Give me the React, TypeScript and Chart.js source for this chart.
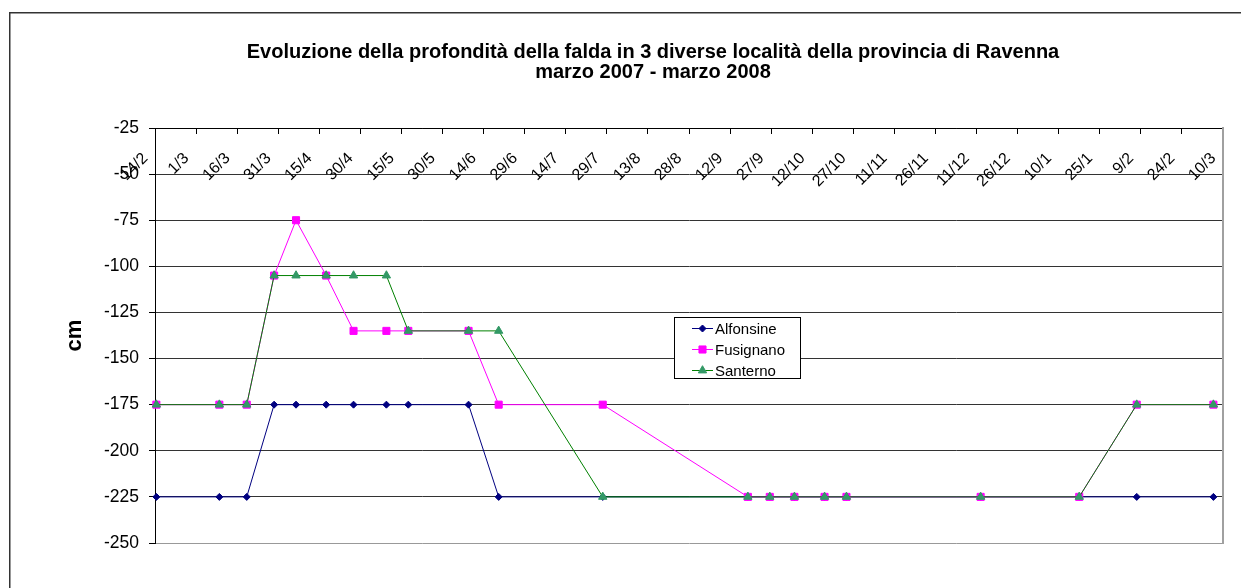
import React, { useEffect, useRef } from 'react';
import { Chart, registerables } from 'chart.js';

Chart.register(...registerables);

const FONT = "Arial, 'Liberation Sans', sans-serif";

const titleLines = [
  'Evoluzione della profondità della falda in 3 diverse località della provincia di Ravenna',
  'marzo 2007 - marzo 2008',
];
const yAxisTitle = 'cm';

// date axis (Excel style: starts 14/2/2007, major unit 15 days)
const axisStart = '14/02/2007';
const xTickStepDays = 15;
const xTickLabels = [
  '14/2', '1/3', '16/3', '31/3', '15/4', '30/4', '15/5', '30/5', '14/6', '29/6',
  '14/7', '29/7', '13/8', '28/8', '12/9', '27/9', '12/10', '27/10', '11/11', '26/11',
  '11/12', '26/12', '10/1', '25/1', '9/2', '24/2', '10/3',
];

const yMin = -250;
const yMax = -25;
const yStep = 25;

const seriesNames = ['Alfonsine', 'Fusignano', 'Santerno'];

const sampleDates = [
  '14/02/2007', '09/03/2007', '19/03/2007', '29/03/2007', '06/04/2007', '17/04/2007',
  '27/04/2007', '09/05/2007', '17/05/2007', '08/06/2007', '19/06/2007', '27/07/2007',
  '18/09/2007', '26/09/2007', '05/10/2007', '16/10/2007', '24/10/2007', '12/12/2007',
  '17/01/2008', '07/02/2008', '06/03/2008',
];

const alfonsine = [
  -225, -225, -225, -175, -175, -175, -175, -175, -175, -175, -225, -225,
  -225, -225, -225, -225, -225, -225, -225, -225, -225,
];
const fusignano = [
  -175, -175, -175, -105, -75, -105, -135, -135, -135, -135, -175, -175,
  -225, -225, -225, -225, -225, -225, -225, -175, -175,
];
const santerno = [
  -175, -175, -175, -105, -105, -105, -105, -105, -135, -135, -135, -225,
  -225, -225, -225, -225, -225, -225, -225, -175, -175,
];

function parseDay(s: string): number {
  const [d, m, y] = s.split('/').map(Number);
  return Date.UTC(y, m - 1, d);
}
const DAY = 86400000;
const startMs = parseDay(axisStart);
// Excel places a date's point in the middle of its day
function toX(s: string): number {
  return (parseDay(s) - startMs) / DAY + 0.5;
}

function toPoints(vals: number[]) {
  return vals.map((v, i) => ({ x: toX(sampleDates[i]), y: v }));
}

const xMax = (xTickLabels.length - 1) * xTickStepDays;

const seriesStyles = [
  { line: '#000080', fill: '#000080', style: 'rectRot', radius: 3.5 },
  { line: '#FF00FF', fill: '#FF00FF', style: 'rect', radius: 5 },
  { line: '#008000', fill: '#339966', style: 'triangle', radius: 4.8 },
];

const framePlugin = {
  id: 'frame',
  beforeDraw(chart: any) {
    const ctx = chart.ctx;
    ctx.save();
    ctx.fillStyle = '#fff';
    ctx.fillRect(0, 0, chart.width, chart.height);
    ctx.strokeStyle = '#333';
    ctx.lineWidth = 1.5;
    ctx.strokeRect(9.75, 12.75, 1286, 640);
    ctx.restore();
  },
};

function drawMarker(ctx: CanvasRenderingContext2D, style: string, x: number, y: number, r: number) {
  ctx.beginPath();
  if (style === 'rectRot') {
    ctx.moveTo(x, y - r);
    ctx.lineTo(x + r, y);
    ctx.lineTo(x, y + r);
    ctx.lineTo(x - r, y);
  } else if (style === 'rect') {
    const h = r * Math.SQRT1_2;
    ctx.rect(x - h, y - h, 2 * h, 2 * h);
  } else {
    ctx.moveTo(x, y - r);
    ctx.lineTo(x + r * 0.866, y + r * 0.5);
    ctx.lineTo(x - r * 0.866, y + r * 0.5);
  }
  ctx.closePath();
  ctx.fill();
  ctx.stroke();
}

const boxLegendPlugin = {
  id: 'boxLegend',
  afterDraw(chart: any) {
    const ctx = chart.ctx;
    const x0 = 674.5, y0 = 317.5, w = 126, h = 61;
    ctx.save();
    ctx.fillStyle = '#fff';
    ctx.fillRect(x0, y0, w, h);
    ctx.strokeStyle = '#000';
    ctx.lineWidth = 1;
    ctx.strokeRect(x0, y0, w, h);
    ctx.font = `15px ${FONT}`;
    ctx.textBaseline = 'middle';
    ctx.textAlign = 'left';
    seriesNames.forEach((name, i) => {
      const st = seriesStyles[i];
      const cy = 328.5 + i * 21;
      ctx.strokeStyle = st.line;
      ctx.lineWidth = 1;
      ctx.beginPath();
      ctx.moveTo(692, cy);
      ctx.lineTo(713, cy);
      ctx.stroke();
      ctx.fillStyle = st.fill;
      ctx.strokeStyle = st.fill;
      drawMarker(ctx, st.style, 702.5, cy, st.radius);
      ctx.fillStyle = '#000';
      ctx.fillText(name, 715, cy + 1);
    });
    ctx.restore();
  },
};

const tickBuilder = (scale: any) => {
  scale.ticks = xTickLabels.map((_, i) => ({ value: i * xTickStepDays }));
};

export default function App() {
  const ref = useRef<HTMLCanvasElement | null>(null);

  useEffect(() => {
    if (!ref.current) return;
    const seriesData = [alfonsine, fusignano, santerno];
    const chart = new Chart(ref.current, {
      type: 'line',
      data: {
        datasets: seriesNames.map((name, i) => ({
          label: name,
          data: toPoints(seriesData[i]),
          borderColor: seriesStyles[i].line,
          backgroundColor: seriesStyles[i].fill,
          pointBackgroundColor: seriesStyles[i].fill,
          pointBorderColor: seriesStyles[i].fill,
          pointStyle: seriesStyles[i].style as any,
          pointRadius: seriesStyles[i].radius,
          pointBorderWidth: 1,
          borderWidth: 1,
          tension: 0,
          fill: false,
          clip: false as any,
          order: 2 - i,
          xAxisID: 'x',
          yAxisID: 'y',
        })),
      },
      options: {
        animation: false,
        responsive: false,
        devicePixelRatio: 1,
        events: [],
        layout: { padding: { left: 10, right: 4, top: 0, bottom: 57 } },
        plugins: {
          legend: { display: false },
          tooltip: { enabled: false },
          title: {
            display: true,
            text: titleLines,
            color: '#000',
            font: { family: FONT, size: 20, weight: 'bold', lineHeight: 1.0 },
            padding: { top: 42, bottom: 46 },
          },
        },
        scales: {
          x: {
            type: 'linear',
            position: 'top',
            min: 0,
            max: xMax,
            afterBuildTicks: tickBuilder,
            afterFit: (s: any) => { s.height = 0; },
            ticks: { display: false },
            grid: { drawOnChartArea: false, drawTicks: true, tickLength: -6, color: '#000' },
            border: { display: true, color: '#000' },
          },
          xl: {
            type: 'linear',
            position: { y: -50 } as any,
            min: 3.5,
            max: xMax + 3.5,
            afterBuildTicks: tickBuilder,
            ticks: {
              autoSkip: false,
              minRotation: 45,
              maxRotation: 45,
              padding: -25,
              color: '#000',
              font: { family: FONT, size: 16 },
              callback: (_v: any, i: number) => xTickLabels[i],
            },
            grid: { display: false, drawTicks: false },
            border: { display: false },
          },
          y: {
            type: 'linear',
            position: 'left',
            min: yMin,
            max: yMax,
            afterFit: (s: any) => { s.width = 145; },
            ticks: {
              stepSize: yStep,
              padding: 10,
              color: '#000',
              font: { family: FONT, size: 17.5 },
            },
            grid: {
              color: (c: any) => (c.tick && c.tick.value === yMin ? '#999' : '#333'),
              tickColor: '#000',
              tickLength: 6,
              lineWidth: 1,
            },
            border: { display: true, color: '#000', width: 1 },
            title: {
              display: true,
              text: yAxisTitle,
              color: '#000',
              font: { family: FONT, size: 22, weight: 'bold' },
              padding: { top: 52, bottom: 0 },
            },
          },
          y2: {
            type: 'linear',
            position: 'right',
            min: yMin,
            max: yMax,
            afterFit: (s: any) => { s.width = 73; },
            ticks: { display: false },
            grid: { display: false, drawTicks: false },
            border: { display: true, color: '#a0a0a0', width: 2 },
          },
        },
      },
      plugins: [framePlugin, boxLegendPlugin],
    } as any);
    return () => chart.destroy();
  }, []);

  return (
    <div style={{ position: 'absolute', left: 0, top: 0, width: 1241, height: 588, overflow: 'hidden', background: '#fff' }}>
      <canvas ref={ref} width={1300} height={600} style={{ display: 'block', width: 1300, height: 600 }} />
    </div>
  );
}
